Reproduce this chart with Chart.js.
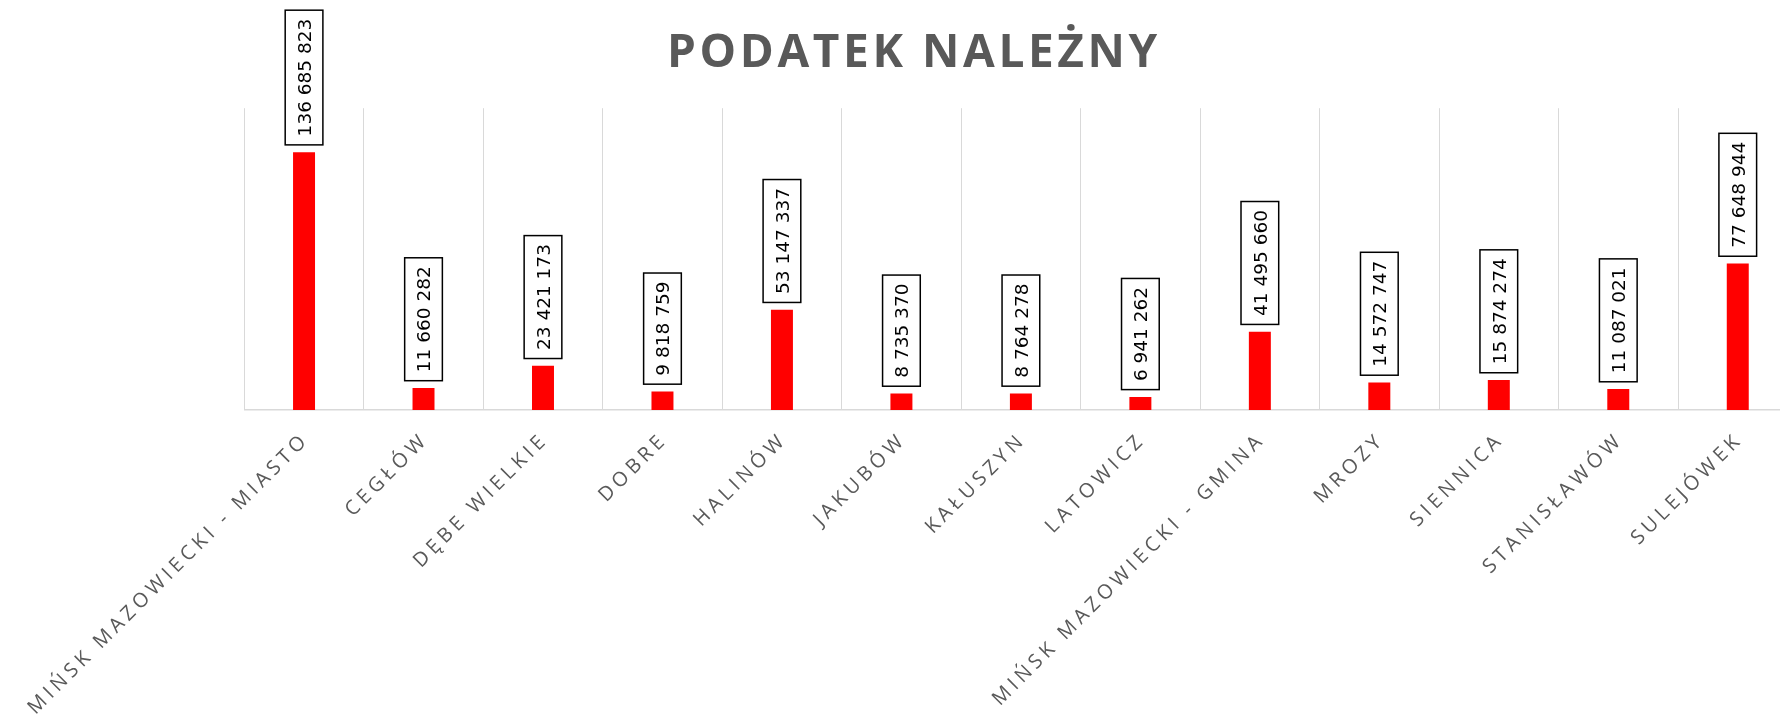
<!DOCTYPE html>
<html>
<head>
<meta charset="utf-8">
<script src="https://cdn.jsdelivr.net/npm/chart.js@4"></script>
<style>
  html, body { margin: 0; padding: 0; background: #ffffff; overflow: hidden; width: 1780px; height: 725px; }
  #wrap { position: absolute; left: 0; top: 0; width: 1828px; height: 725px; }
</style>
</head>
<body>
<div id="wrap"><canvas id="c"></canvas></div>
<script>
const titleText = 'PODATEK NALEŻNY';
const categories = [
  'MIŃSK MAZOWIECKI - MIASTO', 'CEGŁÓW', 'DĘBE WIELKIE', 'DOBRE', 'HALINÓW',
  'JAKUBÓW', 'KAŁUSZYN', 'LATOWICZ', 'MIŃSK MAZOWIECKI - GMINA', 'MROZY',
  'SIENNICA', 'STANISŁAWÓW', 'SULEJÓWEK'
];
const values = [
  136685823, 11660282, 23421173, 9818759, 53147337,
  8735370, 8764278, 6941262, 41495660, 14572747,
  15874274, 11087021, 77648944
];
const yMin = 0;
const yMax = 160000000;

function fmt(v) {
  return String(v).replace(/\B(?=(\d{3})+(?!\d))/g, ' ');
}

const TICK_SPACING = '4.3px';
const TITLE_SPACING = '3.6px';

const spacingPlugin = {
  id: 'spacing',
  beforeUpdate(chart) { chart.ctx.letterSpacing = TICK_SPACING; },
  beforeDraw(chart) {
    chart.ctx.letterSpacing = TICK_SPACING;
    const tb = chart.titleBlock;
    if (tb && !tb.__ls) {
      const orig = tb.draw;
      tb.draw = function (...args) {
        const c = chart.ctx;
        c.save();
        c.letterSpacing = TITLE_SPACING;
        orig.apply(this, args);
        c.restore();
      };
      tb.__ls = true;
    }
  }
};

const labelPlugin = {
  id: 'valueLabels',
  afterDatasetsDraw(chart) {
    const ctx = chart.ctx;
    const meta = chart.getDatasetMeta(0);
    ctx.save();
    ctx.letterSpacing = '0px';
    ctx.font = '18.5px "DejaVu Sans"';
    meta.data.forEach((bar, i) => {
      const text = fmt(values[i]);
      const tw = ctx.measureText(text).width;
      const bw = 37.7;
      const bh = tw + 17;
      const bottom = bar.y - 7.3;
      const left = bar.x - bw / 2;
      ctx.fillStyle = '#ffffff';
      ctx.fillRect(left, bottom - bh, bw, bh);
      ctx.strokeStyle = '#000000';
      ctx.lineWidth = 1.5;
      ctx.strokeRect(left, bottom - bh, bw, bh);
      ctx.save();
      ctx.translate(bar.x + 2, bottom - 8.5);
      ctx.rotate(-Math.PI / 2);
      ctx.fillStyle = '#000000';
      ctx.textAlign = 'left';
      ctx.textBaseline = 'middle';
      ctx.fillText(text, 0, 0);
      ctx.restore();
    });
    ctx.restore();
  }
};

new Chart(document.getElementById('c'), {
  type: 'bar',
  data: {
    labels: categories,
    datasets: [{
      data: values,
      backgroundColor: '#ff0000',
      borderWidth: 0,
      barPercentage: 0.184,
      categoryPercentage: 1
    }]
  },
  options: {
    responsive: true,
    maintainAspectRatio: false,
    animation: false,
    layout: { padding: { left: 30.5, right: 30.5, top: 0, bottom: 0 } },
    plugins: {
      legend: { display: false },
      tooltip: { enabled: false },
      title: {
        display: true,
        text: titleText,
        color: '#595959',
        font: { family: "'Open Sans', sans-serif", size: 46, weight: 'bold' },
        padding: { top: 26, bottom: 27 }
      }
    },
    scales: {
      x: {
        grid: { display: true, color: '#d9d9d9', lineWidth: 1, offset: true, drawTicks: true, tickLength: 14, tickColor: 'rgba(0,0,0,0)' },
        border: { display: true, color: '#d9d9d9', width: 1.5 },
        ticks: {
          autoSkip: false, maxRotation: 45, minRotation: 45,
          color: '#595959',
          font: { family: "'Open Sans', sans-serif", size: 20 },
          padding: 4, labelOffset: 2
        },
        afterFit(s) { s.height = 315; }
      },
      y: {
        display: true,
        min: yMin, max: yMax,
        grid: { display: false },
        border: { display: false },
        ticks: { display: false },
        afterFit(s) { s.width = 213.8; }
      }
    }
  },
  plugins: [spacingPlugin, labelPlugin]
});
</script>
</body>
</html>
